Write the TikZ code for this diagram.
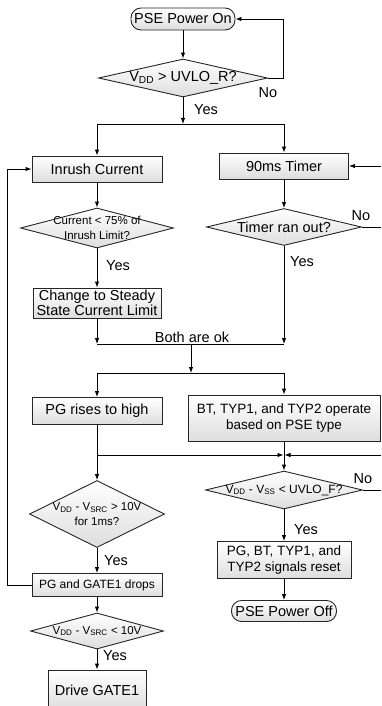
\documentclass[tikz,border=0pt]{standalone}
\usepackage{fontspec}
\setmainfont{Liberation Sans}
\usepackage{tikz}
\usetikzlibrary{arrows.meta}
\usetikzlibrary{arrows.meta,shapes.geometric}

\newcommand{\vsub}[1]{\textsubscript{#1}}
\newcommand{\dtxt}[1]{\makebox[0pt]{#1}}
\newcommand{\fbig}{\fontsize{14.5}{15.5}\selectfont}
\newcommand{\fmid}{\fontsize{13.5}{16.5}\selectfont}
\newcommand{\fsbox}{\fontsize{12}{14}\selectfont}
\newcommand{\fsml}{\fontsize{11.5}{15.5}\selectfont}

\begin{document}
\begin{tikzpicture}[x=1pt,y=-1pt,
		line width=0.9pt,
		arr/.style={-{Latex[length=6pt,width=4.5pt]}},
		box/.style={draw=black!85, rectangle, inner sep=0pt, top color=white, bottom color=black!13, align=center, font=\fbig},
		term/.style={box, rounded corners=10pt},
		dec/.style={draw=black!85, diamond, aspect=1, inner sep=0pt, top color=white, bottom color=black!13, align=center},
		lbl/.style={inner sep=0pt, font=\fbig}]
		\clip (0,0) rectangle (381,706);
		
		% Power on and first check
		\node[term, minimum width=104, minimum height=22] (pon) at (183,19) {PSE Power On};
		\node[dec, minimum width=169, minimum height=38, font=\fbig] (uvr) at (183,78) {\dtxt{V\vsub{DD} > UVLO\_R?}};
		\coordinate (sp1) at (183,124);
		
		% Two branches
		\node[box, minimum width=130, minimum height=26] (inr) at (97,169) {Inrush Current};
		\node[box, minimum width=129, minimum height=26] (tmr) at (284,166) {90ms Timer};
		\node[dec, minimum width=153, minimum height=40, font=\fsml] (lim) at (97,228) {\dtxt{Current < 75\% of}\\\dtxt{Inrush Limit?}};
		\node[dec, minimum width=155, minimum height=37, font=\fbig] (tout) at (284,227) {\dtxt{Timer ran out?}};
		\node[box, minimum width=128, minimum height=30] (chg) at (97,303) {Change to Steady\\State Current Limit};
		\coordinate (tin) at (381,166);
		\coordinate (tno) at (381,227);
		\coordinate (mrg) at (191,344);
		\coordinate (sp2) at (191,373);
		
		% After both are ok
		\node[box, minimum width=130, minimum height=27] (pgr) at (97,411) {PG rises to high};
		\node[box, minimum width=192, minimum height=46, font=\fmid] (bt) at (284,418) {BT, TYP1, and TYP2 operate\\based on PSE type};
		\coordinate (jn) at (284,455);
		\coordinate (rin) at (381,455);
		\node[dec, minimum width=135, minimum height=67, font=\fsml] (vsrc) at (97,514) {\dtxt{V\vsub{DD} - V\vsub{SRC} > 10V}\\\dtxt{for 1ms?}};
		\node[box, minimum width=130, minimum height=23, font=\fsbox] (pgd) at (97,585) {PG and GATE1 drops};
		\node[dec, minimum width=133, minimum height=36, font=\fsml] (vlow) at (97,631) {\dtxt{V\vsub{DD} - V\vsub{SRC} < 10V}};
		\node[box, minimum width=98, minimum height=40] (drv) at (97,690) {Drive GATE1};
		\node[dec, minimum width=157, minimum height=38, font=\fsbox] (uvf) at (284,490) {\dtxt{V\vsub{DD} - V\vsub{SS} < UVLO\_F?}};
		\node[box, minimum width=134, minimum height=37, font=\fmid] (rst) at (284,560) {PG, BT, TYP1, and\\TYP2 signals reset};
		\node[term, minimum width=105, minimum height=21] (poff) at (284,611) {PSE Power Off};
		\coordinate (uno) at (381,490);
		
		% Labels
		\node[lbl] (no1) at (268,93) {No};
		\node[lbl] (yes1) at (206,110) {Yes};
		\node[lbl] (no2) at (361,216) {No};
		\node[lbl] (yes2) at (118,266) {Yes};
		\node[lbl] (yes3) at (302,262) {Yes};
		\node[lbl] (ok) at (192,337) {Both are ok};
		\node[lbl] (no3) at (363,479) {No};
		\node[lbl] (yes4) at (116,561) {Yes};
		\node[lbl] (yes5) at (306,530) {Yes};
		\node[lbl] (yes6) at (115,656) {Yes};
		
		% Arrows
		\draw[arr] (pon) -- (uvr);
		\draw[arr] (uvr.east) -- ++(15,0) |- (pon.east);
		\draw[arr] (uvr) -- (sp1);
		\draw[arr] (sp1) -| (inr);
		\draw[arr] (sp1) -| (tmr);
		\draw[arr] (inr) -- (lim);
		\draw[arr] (lim) -- (chg);
		\draw[arr] (tmr) -- (tout);
		\draw[arr] (tin) -- (tmr);
		\draw (tout.east) -- (tno);
		\draw[arr] (chg) -- (chg |- mrg);
		\draw[arr] (tout) -- (tout |- mrg);
		\draw (chg |- mrg) -- (tout |- mrg);
		\draw[arr] (mrg) -- (sp2);
		\draw[arr] (sp2) -| (pgr);
		\draw[arr] (sp2) -| (bt);
		\draw[arr] (pgr) -- (vsrc);
		\draw[arr, shorten >=0.5pt] (pgr |- jn) -- (jn);
		\draw[arr, shorten >=0.5pt] (rin) -- (jn);
		\draw[arr] (bt) -- (uvf);
		\draw[arr] (vsrc) -- (pgd);
		\draw[arr] (pgd.west) -- ++(-24,0) |- (inr.west);
		\draw[arr] (pgd) -- (vlow);
		\draw[arr] (vlow) -- (drv);
		\draw (uvf.east) -- (uno);
		\draw[arr] (uvf) -- (rst);
		\draw[arr] (rst) -- (poff);
		
	\end{tikzpicture}
\end{document}
